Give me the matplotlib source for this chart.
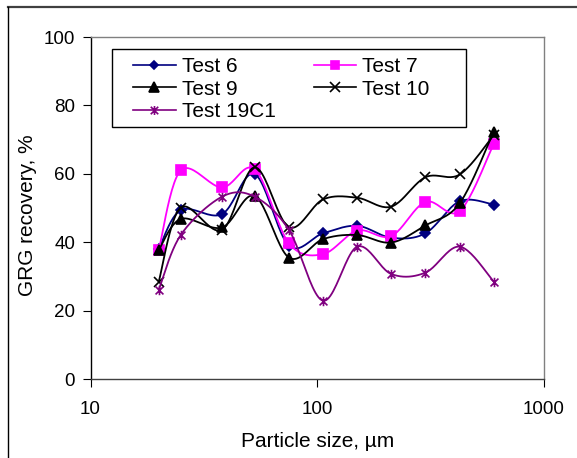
import numpy as np
import matplotlib
matplotlib.use("Agg")
import matplotlib.pyplot as plt
from matplotlib.lines import Line2D
from matplotlib.patches import Rectangle
from matplotlib.path import Path
from matplotlib.ticker import FixedLocator, FixedFormatter, NullLocator

plt.rcParams['font.family'] = ['Liberation Sans', 'DejaVu Sans']

# sieve sizes, um
sizes = [20, 25, 38, 53, 75, 106, 150, 212, 300, 425, 600]

test6 = [38.0, 49.4, 48.2, 59.9, 39.0, 42.6, 44.8, 41.3, 42.6, 52.0, 51.0]
test7 = [37.7, 61.0, 56.0, 61.3, 39.7, 36.5, 43.4, 41.8, 51.8, 49.1, 68.7]
test9 = [37.7, 46.8, 44.3, 53.5, 35.5, 40.9, 42.1, 39.9, 44.9, 51.4, 72.3]
test10 = [28.5, 50.1, 43.6, 61.9, 44.4, 52.5, 53.0, 50.4, 59.0, 59.8, 71.3]
test19c1 = [26.1, 42.1, 53.3, 53.3, 43.6, 22.9, 38.7, 30.7, 31.1, 38.7, 28.5]

labels = ['Test 6', 'Test 7', 'Test 9', 'Test 10', 'Test 19C1']

# Excel-style star marker: an x with a vertical stroke
star = Path([(-0.5, -0.5), (0.5, 0.5), (-0.5, 0.5), (0.5, -0.5), (0, -0.6), (0, 0.6)],
            [Path.MOVETO, Path.LINETO, Path.MOVETO, Path.LINETO, Path.MOVETO, Path.LINETO])

styles = [
    dict(color='#000080', marker='D', ms=4.6),
    dict(color='#FF00FF', marker='s', ms=6.7),
    dict(color='black', marker='^', ms=7.2),
    dict(color='black', marker='x', ms=7.9),
    dict(color='#800080', marker=star, ms=6.8),
]


def smooth(ax, xs, ys, n=24):
    """Catmull-Rom bezier through the points, done in screen space like Excel."""
    pts = ax.transData.transform(np.column_stack([xs, ys]))
    p = np.vstack([pts[0], pts, pts[-1]])
    t = np.linspace(0, 1, n)[:, None]
    out = []
    for i in range(1, len(p) - 2):
        p0, p1, p2, p3 = p[i - 1], p[i], p[i + 1], p[i + 2]
        c1 = p1 + (p2 - p0) / 6
        c2 = p2 - (p3 - p1) / 6
        seg = (1 - t) ** 3 * p1 + 3 * (1 - t) ** 2 * t * c1 + 3 * (1 - t) * t ** 2 * c2 + t ** 3 * p2
        out.append(seg if i == 1 else seg[1:])
    curve = ax.transData.inverted().transform(np.vstack(out))
    return curve[:, 0], curve[:, 1]


fig = plt.figure(figsize=(5.77, 4.58), dpi=100)
ax = fig.add_axes([90.5 / 577, 1 - 379 / 458, 453.5 / 577, 342 / 458])
ax.set_xscale('log')
ax.set_xlim(10, 1000)
ax.set_ylim(0, 100)

handles = []
for vals, lab, st in zip([test6, test7, test9, test10, test19c1], labels, styles):
    sx, sy = smooth(ax, sizes, vals)
    ax.plot(sx, sy, color=st['color'], lw=1.3, solid_capstyle='round')
    ax.plot(sizes, vals, ls='none', marker=st['marker'], ms=st['ms'],
            color=st['color'], mfc=st['color'], mec=st['color'], mew=1.2)
    handles.append(Line2D([], [], color=st['color'], lw=1.2, marker=st['marker'],
                          ms=st['ms'] * 0.95, mfc=st['color'], mec=st['color'], mew=1.2))

ax.xaxis.set_major_locator(FixedLocator([10, 100, 1000]))
ax.xaxis.set_major_formatter(FixedFormatter(['10', '100', '1000']))
ax.xaxis.set_minor_locator(NullLocator())
ax.set_yticks([0, 20, 40, 60, 80, 100])
ax.tick_params(axis='both', direction='out', length=5.5, width=0.8, labelsize=13.5, colors='black')
ax.tick_params(axis='x', pad=10.4)
ax.tick_params(axis='y', pad=5.5)

ax.spines['left'].set_color('black')
ax.spines['bottom'].set_color('#404040')
ax.spines['top'].set_color('#808080')
ax.spines['right'].set_color('#808080')
for s in ax.spines.values():
    s.set_linewidth(1.0)

ax.set_xlabel('Particle size, µm', fontsize=15)
ax.set_ylabel('GRG recovery, %', fontsize=15)
ax.xaxis.set_label_coords(0.5, -0.155)
ax.yaxis.set_label_coords(-0.117, 0.48)

# legend box drawn by hand, entries placed inside it
ax.add_patch(Rectangle((0.0485, 0.7377), 0.7805, 0.2263, transform=ax.transAxes,
                       facecolor='white', edgecolor='black', lw=1.0, zorder=4))
order = [0, 2, 4, 1, 3]
leg = ax.legend([handles[i] for i in order], [labels[i] for i in order], ncol=2,
                loc='upper left', bbox_to_anchor=(0.0937, 0.941),
                fontsize=15, frameon=False, borderpad=0,
                labelspacing=0.17, handlelength=2.06, handletextpad=0.27,
                columnspacing=1.83, borderaxespad=0)
leg.set_zorder(5)

# outer chart-area border (only top and left visible)
fig.add_artist(Line2D([8 / 577, 1], [1 - 6.5 / 458, 1 - 6.5 / 458], color='#404040', lw=1.6))
fig.add_artist(Line2D([8 / 577, 8 / 577], [0, 1 - 6.5 / 458], color='black', lw=1.0))

fig.savefig('out.png', dpi=100)
